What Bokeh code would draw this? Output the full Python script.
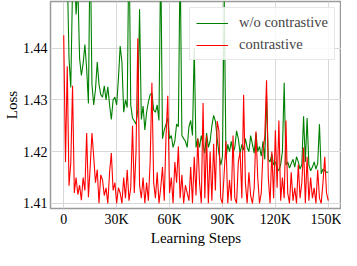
from bokeh.plotting import figure
from bokeh.models import Range1d, FixedTicker, Legend, LegendItem
from bokeh.embed import file_html
from bokeh.resources import INLINE

# ---- data ----
steps = list(range(0, 151000, 1000))

wo_contrastive = [
    1.4680, 1.4520, 1.4550, 1.4380, 1.4324, 1.4520, 1.4560, 1.4465, 1.4520, 1.4380,
    1.4347, 1.4370, 1.4407, 1.4360, 1.4293, 1.4620, 1.4330, 1.4290, 1.4320, 1.4373,
    1.4330, 1.4310, 1.4305, 1.4327, 1.4300, 1.4325, 1.4290, 1.4262, 1.4300, 1.4305,
    1.4290, 1.4340, 1.4404, 1.4373, 1.4276, 1.4300, 1.4285, 1.4620, 1.4290, 1.4265,
    1.4259, 1.4253, 1.4280, 1.4475, 1.4262, 1.4288, 1.4242, 1.4276, 1.4296, 1.4310,
    1.4313, 1.4280, 1.4276, 1.4290, 1.4260, 1.4580, 1.4225, 1.4242, 1.4253, 1.4265,
    1.4225, 1.4231, 1.4208, 1.4220, 1.4253, 1.4248, 1.4580, 1.4231, 1.4225, 1.4220,
    1.4208, 1.4248, 1.4260, 1.4231, 1.4400, 1.4208, 1.4225, 1.4208, 1.4231, 1.4214,
    1.4197, 1.4236, 1.4208, 1.4220, 1.4250, 1.4270, 1.4259, 1.4225, 1.4197, 1.4174,
    1.4190, 1.4500, 1.4185, 1.4214, 1.4200, 1.4220, 1.4197, 1.4208, 1.4240, 1.4225,
    1.4197, 1.4214, 1.4203, 1.4225, 1.4208, 1.4200, 1.4231, 1.4214, 1.4197, 1.4236,
    1.4200, 1.4210, 1.4191, 1.4220, 1.4185, 1.4310, 1.4185, 1.4180, 1.4195, 1.4174,
    1.4180, 1.4168, 1.4163, 1.4175, 1.4200, 1.4333, 1.4174, 1.4180, 1.4168, 1.4177,
    1.4185, 1.4170, 1.4190, 1.4180, 1.4166, 1.4175, 1.4268, 1.4180, 1.4265, 1.4174,
    1.4163, 1.4170, 1.4180, 1.4166, 1.4177, 1.4253, 1.4157, 1.4166, 1.4163, 1.4160,
    1.4160,
]

contrastive = [
    1.4425, 1.4180, 1.4365, 1.4134, 1.4178, 1.4327, 1.4120, 1.4150, 1.4117, 1.4135,
    1.4106, 1.4150, 1.4125, 1.4236, 1.4112, 1.4170, 1.4236, 1.4190, 1.4140, 1.4165,
    1.4100, 1.4155, 1.4145, 1.4115, 1.4130, 1.4100, 1.4160, 1.4197, 1.4125, 1.4140,
    1.4100, 1.4130, 1.4120, 1.4100, 1.4150, 1.4110, 1.4165, 1.4105, 1.4130, 1.4250,
    1.4120, 1.4200, 1.4419, 1.4135, 1.4110, 1.4150, 1.4100, 1.4140, 1.4105, 1.4180,
    1.4333, 1.4140, 1.4110, 1.4160, 1.4100, 1.4130, 1.4170, 1.4105, 1.4230, 1.4308,
    1.4120, 1.4150, 1.4100, 1.4180, 1.4140, 1.4210, 1.4110, 1.4155, 1.4100, 1.4135,
    1.4120, 1.4105, 1.4170, 1.4100, 1.4190, 1.4115, 1.4225, 1.4140, 1.4100, 1.4294,
    1.4110, 1.4231, 1.4100, 1.4200, 1.4105, 1.4215, 1.4125, 1.4259, 1.4240, 1.4110,
    1.4100, 1.4160, 1.4220, 1.4100, 1.4145, 1.4105, 1.4231, 1.4110, 1.4100, 1.4180,
    1.4200, 1.4110, 1.4310, 1.4140, 1.4100, 1.4160, 1.4115, 1.4100, 1.4130, 1.4239,
    1.4150, 1.4100, 1.4120, 1.4200, 1.4230, 1.4338, 1.4150, 1.4100, 1.4200, 1.4110,
    1.4241, 1.4130, 1.4260, 1.4105, 1.4150, 1.4110, 1.4260, 1.4120, 1.4100, 1.4160,
    1.4105, 1.4130, 1.4100, 1.4175, 1.4110, 1.4140, 1.4208, 1.4100, 1.4190, 1.4105,
    1.4150, 1.4110, 1.4130, 1.4100, 1.4165, 1.4110, 1.4100, 1.4140, 1.4190, 1.4120,
    1.4105,
]

x_tick_values = [0, 30000, 60000, 90000, 120000, 150000]
x_tick_labels = ["0", "30K", "60K", "90K", "120K", "150K"]
y_tick_values = [1.41, 1.42, 1.43, 1.44]
y_tick_labels = ["1.41", "1.42", "1.43", "1.44"]

series_names = ["w/o contrastive", "contrastive"]
series_colors = ["#008000", "#ff0000"]

FONT = "Liberation Serif"

p = figure(width=341, height=248, output_backend="svg", toolbar_location=None,
           x_range=Range1d(-7500, 157500), y_range=Range1d(1.409, 1.449),
           min_border=0, min_border_left=0, min_border_right=0,
           min_border_top=1, min_border_bottom=0)

p.background_fill_color = "white"
p.border_fill_color = "white"
p.outline_line_color = "#9a9a9a"
p.outline_line_width = 1.5

for ax in (p.xaxis[0], p.yaxis[0]):
    ax.axis_line_color = None
    ax.major_tick_in = 0
    ax.major_tick_out = 0
    ax.minor_tick_line_color = None
    ax.major_label_text_font = FONT
    ax.major_label_text_font_size = "14px"
    ax.major_label_text_color = "black"
    ax.axis_label_text_font = FONT
    ax.axis_label_text_font_size = "15px"
    ax.axis_label_text_font_style = "normal"
    ax.axis_label_text_color = "black"
    ax.major_label_standoff = 3
    ax.axis_label_standoff = 0

p.xaxis.ticker = FixedTicker(ticks=x_tick_values)
p.xaxis.major_label_overrides = {v: l for v, l in zip(x_tick_values, x_tick_labels)}
p.yaxis.ticker = FixedTicker(ticks=y_tick_values)
p.yaxis.major_label_overrides = {v: l for v, l in zip(y_tick_values, y_tick_labels)}
p.xaxis.axis_label = "Learning Steps"
p.yaxis.axis_label = "Loss"

p.xgrid.grid_line_color = "#d8d8d8"
p.ygrid.grid_line_color = "#d8d8d8"
p.xgrid.grid_line_width = 1
p.ygrid.grid_line_width = 1

r_wo = p.line(steps, wo_contrastive, line_color=series_colors[0], line_width=1.1)
r_c = p.line(steps, contrastive, line_color=series_colors[1], line_width=1.1)

legend = Legend(items=[LegendItem(label=series_names[0], renderers=[r_wo]),
                       LegendItem(label=series_names[1], renderers=[r_c])],
                location="top_right")
legend.label_text_font = FONT
legend.label_text_font_size = "14.5px"
legend.glyph_width = 32
legend.glyph_height = 16
legend.label_height = 16
legend.spacing = 5
legend.padding = 6
legend.margin = 6
legend.label_standoff = 11
legend.border_line_color = "#d0d0d0"
legend.border_line_width = 1
legend.background_fill_alpha = 0.85
p.add_layout(legend)

open("out.html", "w").write(file_html(p, INLINE))
